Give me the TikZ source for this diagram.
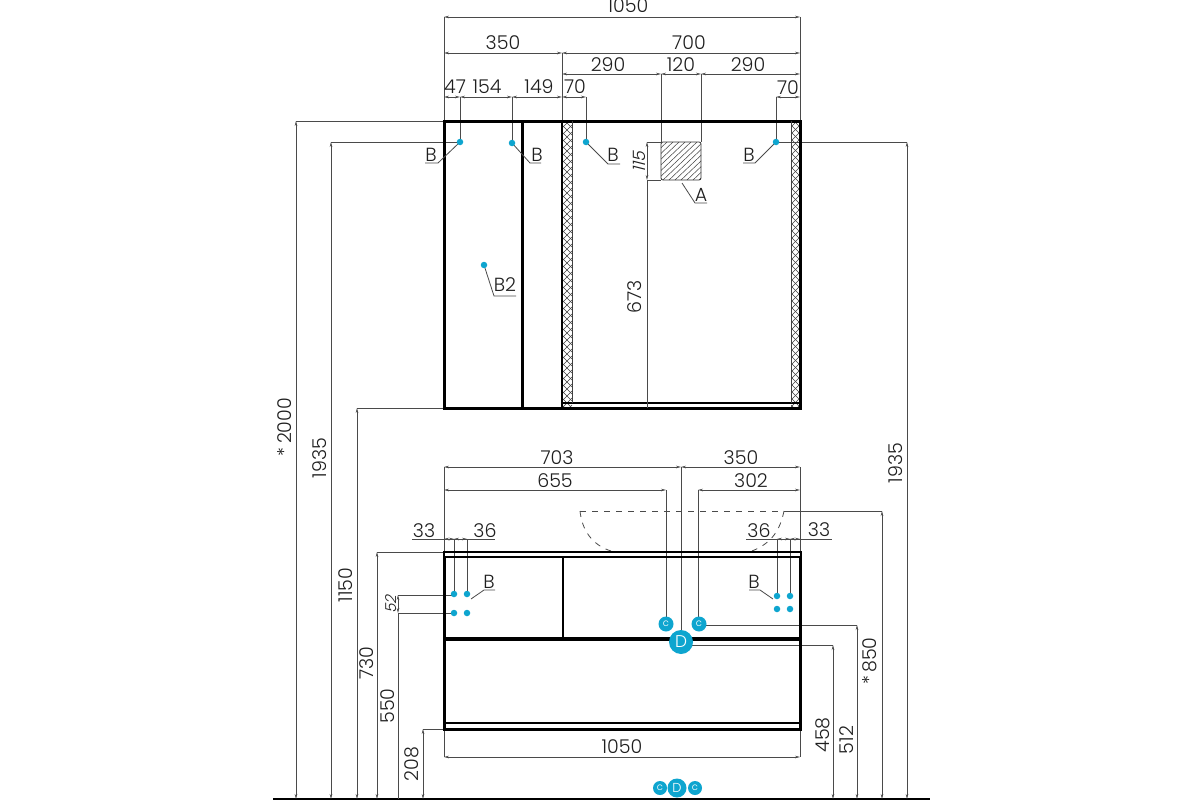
\documentclass[tikz,border=0pt]{standalone}
\usepackage{fontspec}
\setmainfont{Poppins Light}
\usetikzlibrary{arrows.meta}
\definecolor{dimc}{HTML}{4A4A4A}
\definecolor{bluec}{HTML}{0EA5CF}
\tikzset{
  wall/.style={draw=black,line width=3pt,line cap=rect},
  thinwall/.style={draw=black,line width=2.2pt},
  ext/.style={draw=dimc,line width=0.8pt},
  dimline/.style={draw=dimc,line width=0.8pt,{Stealth[length=5pt,width=2.6pt]}-{Stealth[length=5pt,width=2.6pt]}},
  plain/.style={draw=dimc,line width=0.8pt},
  lab/.style={font=\fontsize{19}{19}\selectfont,text=black!88,inner sep=0pt,anchor=center},
  vlab/.style={lab,rotate=90},
  dot/.style={circle,fill=bluec,inner sep=0pt,minimum size=6.5pt},
  cmark/.style={circle,fill=bluec,inner sep=0pt,minimum size=15pt,text=white,font=\fontsize{10}{10}\selectfont},
  dmark/.style={circle,fill=bluec,inner sep=0pt,minimum size=24pt,text=white,font=\fontsize{17}{17}\selectfont},
  hatchline/.style={draw=black!75,line width=0.5pt},
  dashedline/.style={draw=dimc,line width=0.8pt,dash pattern=on 6pt off 6pt},
}
\begin{document}
\begin{tikzpicture}[x=1pt,y=-1pt]
\useasboundingbox (0,0) rectangle (1200,800);
\fill[white] (0,0) rectangle (1200,800);

% ---- hatching
\begin{scope}
\clip[rounded corners=2pt] (661,142) rectangle (701,180);
\foreach \i in {0,6,...,84} \draw[hatchline] (661+\i-40,180) -- (661+\i,142);
\end{scope}
\draw[draw=black!80,line width=0.8pt,rounded corners=2pt] (661,142) rectangle (701,180);
\begin{scope}
\clip (562,121) rectangle (572,408);
\foreach \i in {-10,-3,...,300} {\draw[hatchline] (562,121+\i) -- (572,131+\i); \draw[hatchline] (562,131+\i) -- (572,121+\i);}
\end{scope}
\begin{scope}
\clip (791,121) rectangle (800,408);
\foreach \i in {-10,-3,...,300} {\draw[hatchline] (791,121+\i) -- (800,130+\i); \draw[hatchline] (791,130+\i) -- (800,121+\i);}
\end{scope}

% ---- extension lines, upper
\draw[ext] (444,17) -- (444,121);
\draw[ext] (800,17) -- (800,121);
\draw[ext] (562,53) -- (562,121);
\draw[ext] (661,74) -- (661,142);
\draw[ext] (701,74) -- (701,142);
\draw[ext] (460,97) -- (460,142);
\draw[ext] (512,97) -- (512,143);
\draw[ext] (586,97) -- (586,142);
\draw[ext] (776,97) -- (776,142);
\draw[ext] (296,121) -- (444,121);
\draw[ext] (331,142) -- (460,142);
\draw[ext] (357,408) -- (444,408);
\draw[ext] (776,142) -- (907,142);
\draw[ext] (647,142) -- (661,142);
\draw[ext] (647,180) -- (661,180);

% ---- horizontal dimensions, upper
\draw[dimline] (444,17) -- (800,17);
\draw[dimline] (444,53) -- (562,53);
\draw[dimline] (562,53) -- (800,53);
\draw[dimline] (562,74) -- (661,74);
\draw[dimline] (661,74) -- (701,74);
\draw[dimline] (701,74) -- (800,74);
\draw[dimline] (444,97) -- (460,97);
\draw[dimline] (460,97) -- (512,97);
\draw[dimline] (512,97) -- (562,97);
\draw[dimline] (562,97) -- (586,97);
\draw[dimline] (776,97) -- (800,97);

\node[lab] (t1050) at (628,6) {1050};
\node[lab] (t350) at (503,43) {350};
\node[lab] (t700) at (689,43) {700};
\node[lab] (t290a) at (608,65) {290};
\node[lab] (t120) at (681,65) {120};
\node[lab] (t290b) at (748,65) {290};
\node[lab] (t47) at (455,87) {47};
\node[lab] (t154) at (487,87) {154};
\node[lab] (t149) at (539,87) {149};
\node[lab] (t70a) at (575,87) {70};
\node[lab] (t70b) at (788,88) {70};

% ---- upper cabinet
\draw[wall] (444,121) rectangle (800,408);
\draw[wall] (522,121) -- (522,408);
\draw[thinwall] (562,121) -- (562,408);
\draw[thinwall] (562,403) -- (800,403);
\draw[draw=black!75,line width=0.8pt] (572,121) -- (572,403);
\draw[draw=black!75,line width=0.8pt] (791,121) -- (791,403);

% ---- vertical dims in upper
\draw[dimline] (647,142) -- (647,180);
\draw[plain] (647,180) -- (647,408);
\node[vlab,xslant=0.25] (t115) at (639,161) {\fontsize{17}{17}\selectfont 115};
\node[vlab] (t673) at (635,297) {673};

% ---- leaders, upper
\draw[plain] (425,163) -- (438,163) -- (460,142);
\node[lab] (b1) at (431,155) {B};
\draw[plain] (541,163) -- (530,163) -- (512,143);
\node[lab] (b2) at (537,155) {B};
\draw[plain] (620,164) -- (608,164) -- (586,142);
\node[lab] (b3) at (613,155) {B};
\draw[plain] (743,163) -- (755,163) -- (776,142);
\node[lab] (b4) at (749,155) {B};
\draw[plain] (516,296) -- (494,296) -- (484,265);
\node[lab] (b5) at (505,285) {B2};
\draw[plain] (707,203) -- (695,203) -- (682,183);
\node[lab] (ta) at (701,195) {A};

\node[dot] (d1) at (460,142) {};
\node[dot] (d2) at (512,143) {};
\node[dot] (d3) at (586,142) {};
\node[dot] (d4) at (776,142) {};
\node[dot] (d5) at (484,265) {};

% ---- left vertical dims
\draw[draw=black,line width=1.1pt] (273,799) -- (930,799);
\draw[dimline] (296,121) -- (296,799);
\draw[dimline] (331,142) -- (331,799);
\draw[dimline] (357,408) -- (357,799);
\draw[dimline] (377,552) -- (377,799);
\draw[dimline] (398,595) -- (398,613);
\draw[plain] (398,613) -- (398,799);
\draw[dimline] (423,729) -- (423,799);
\draw[ext] (377,552) -- (444,552);
\draw[ext] (398,595) -- (454,595);
\draw[ext] (398,613) -- (454,613);
\draw[ext] (423,729) -- (444,729);
\node[vlab] (t2000) at (285,427) {*\,2000};
\node[vlab] (t1935a) at (320,458) {1935};
\node[vlab] (t1150) at (346,585) {1150};
\node[vlab] (t730) at (367,663) {730};
\node[vlab] (t550) at (388,706) {550};
\node[vlab,xslant=0.25] (t52) at (391,603) {\fontsize{15}{15}\selectfont 52};
\node[vlab] (t208) at (412,764) {208};

% ---- right vertical dims
\draw[dimline] (907,142) -- (907,799);
\draw[dimline] (882,511) -- (882,799);
\draw[dimline] (857,625) -- (857,799);
\draw[dimline] (833,645) -- (833,799);
\draw[ext] (784,511) -- (882,511);
\draw[ext] (699,625) -- (857,625);
\draw[ext] (681,645) -- (833,645);
\node[vlab] (t1935b) at (896,463) {1935};
\node[vlab] (t850) at (870,661) {*\,850};
\node[vlab] (t512) at (847,740) {512};
\node[vlab] (t458) at (823,735) {458};

% ---- basin
\draw[dashedline] (580,511) -- (784,511);
\draw[dashedline] (580,511) .. controls (582,530) and (592,545) .. (611,551);
\draw[dashedline] (784,511) .. controls (780,530) and (772,543) .. (752,551);

% ---- extension lines, lower
\draw[ext] (444,467) -- (444,552);
\draw[ext] (800,467) -- (800,552);
\draw[ext] (681,467) -- (681,642);
\draw[ext] (666,490) -- (666,624);
\draw[ext] (698,490) -- (698,624);
\draw[ext] (454,539) -- (454,594);
\draw[ext] (467,539) -- (467,594);
\draw[ext] (777,539) -- (777,596);
\draw[ext] (790,539) -- (790,596);
\draw[ext] (444,729) -- (444,757);
\draw[ext] (800,729) -- (800,757);

\draw[dimline] (444,467) -- (681,467);
\draw[dimline] (681,467) -- (800,467);
\draw[dimline] (444,490) -- (666,490);
\draw[dimline] (698,490) -- (800,490);
\draw[plain] (412,539) -- (495,539);
\draw[dimline] (444,539) -- (454,539);
\draw[dimline] (454,539) -- (467,539);
\draw[plain] (746,539) -- (832,539);
\draw[dimline] (777,539) -- (790,539);
\draw[dimline] (790,539) -- (800,539);
\draw[dimline] (444,757) -- (800,757);

\node[lab] (t703) at (557,458) {703};
\node[lab] (t350b) at (741,458) {350};
\node[lab] (t655) at (555,481) {655};
\node[lab] (t302) at (751,481) {302};
\node[lab] (t33a) at (424,531) {33};
\node[lab] (t36a) at (485,531) {36};
\node[lab] (t36b) at (759,531) {36};
\node[lab] (t33b) at (819,530) {33};
\node[lab] (t1050b) at (622,747) {1050};

% ---- lower cabinet
\draw[thinwall] (444,552) rectangle (801,557);
\draw[wall] (444,557) -- (444,729) -- (800,729) -- (800,557);
\draw[line width=3.6pt] (444,639) -- (800,639);
\draw[thinwall] (563,557) -- (563,639);
\draw[thinwall] (444,723) -- (800,723);

% ---- B leaders, lower
\draw[plain] (495,590) -- (484,590) -- (471,599);
\node[lab] (b6) at (489,582) {B};
\draw[plain] (749,590) -- (760,590) -- (773,599);
\node[lab] (b7) at (754,582) {B};

\node[dot] (e1) at (454,594) {};
\node[dot] (e2) at (467,594) {};
\node[dot] (e3) at (454,613) {};
\node[dot] (e4) at (467,613) {};
\node[dot] (e5) at (777,596) {};
\node[dot] (e6) at (790,596) {};
\node[dot] (e7) at (777,609) {};
\node[dot] (e8) at (790,609) {};

\node[cmark] (c1) at (666,624) {c};
\node[cmark] (c2) at (699,624) {c};
\node[dmark] (dd) at (681,642) {D};
\node[cmark,minimum size=14pt] (c3) at (660,788) {c};
\node[cmark,minimum size=14pt] (c4) at (695,788) {c};
\node[circle,fill=bluec,inner sep=0pt,minimum size=19pt,text=white,font=\fontsize{13}{13}\selectfont] (dd2) at (677,788) {D};
\end{tikzpicture}
\end{document}
